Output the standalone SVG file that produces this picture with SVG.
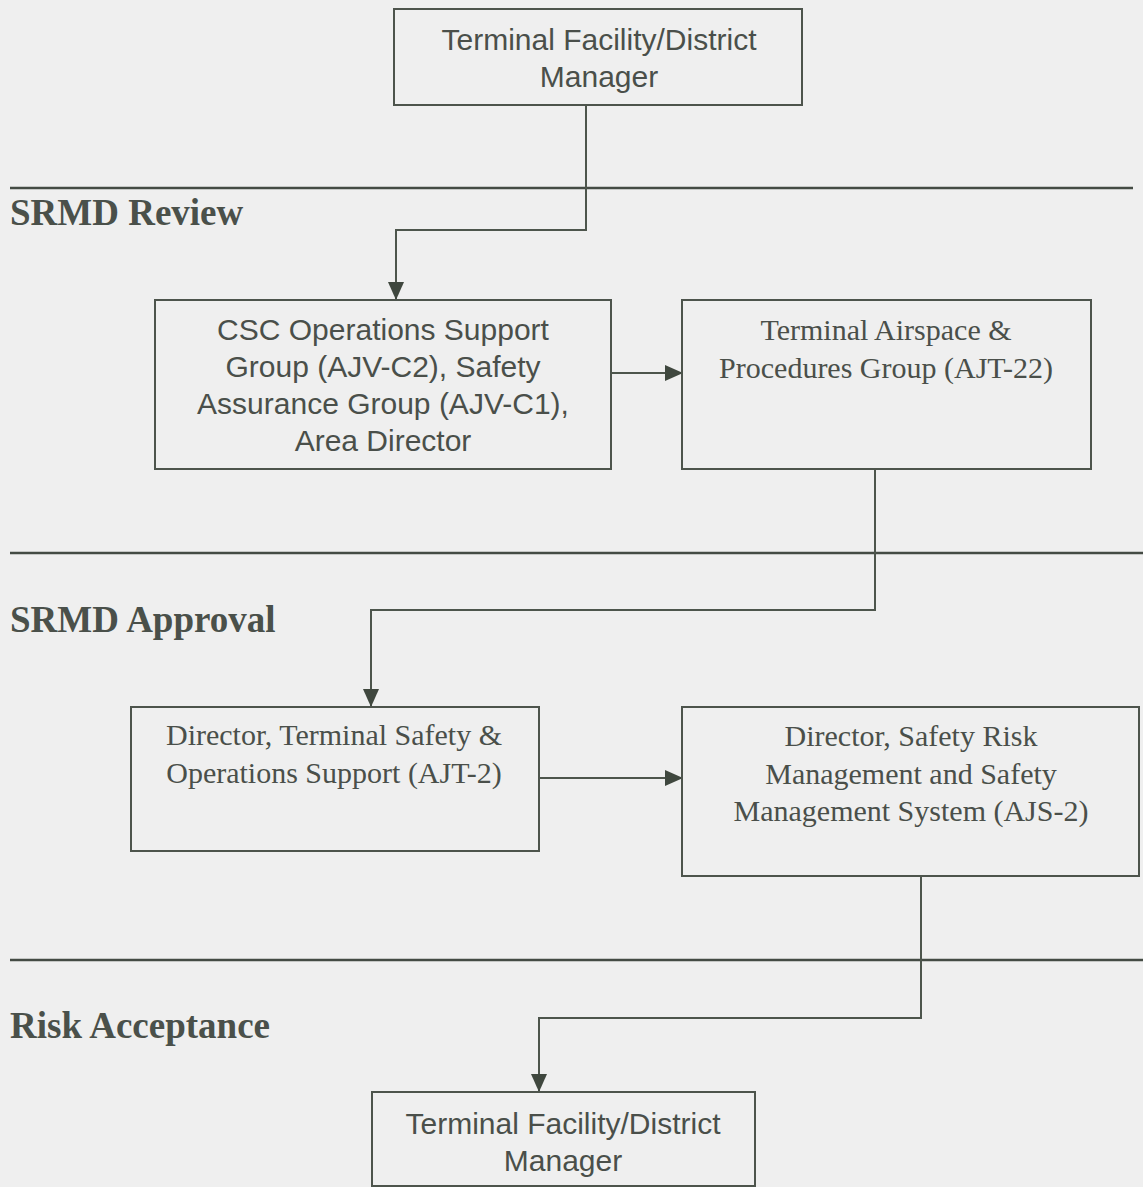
<svg xmlns="http://www.w3.org/2000/svg" width="1143" height="1187" viewBox="0 0 1143 1187">
  <defs>
    <style>
      .box { fill: none; stroke: #4d544c; stroke-width: 2; }
      .sep { stroke: #444b44; stroke-width: 2.5; }
      .conn { fill: none; stroke: #4d554c; stroke-width: 2; }
      .sans { font-family: "Liberation Sans", Arial, sans-serif; font-size: 30px; fill: #4a4f4a; text-anchor: middle; }
      .serif { font-family: "Liberation Serif", "Times New Roman", serif; font-size: 30px; fill: #4a4f4a; text-anchor: middle; }
      .head { font-family: "Liberation Serif", "Times New Roman", serif; font-size: 37px; font-weight: bold; fill: #4a504a; }
    </style>
    <marker id="arrow" markerUnits="userSpaceOnUse" markerWidth="18" markerHeight="16" refX="17" refY="8" orient="auto">
      <path d="M0,0 L18,8 L0,16 Z" fill="#3f473e"/>
    </marker>
  </defs>

  <rect width="1143" height="1187" fill="#efefef"/>

  <!-- phase separators and labels -->
  <g id="phases">
    <line class="sep" x1="10" y1="188" x2="1133" y2="188"/>
    <line class="sep" x1="10" y1="553" x2="1143" y2="553"/>
    <line class="sep" x1="10" y1="960" x2="1143" y2="960"/>
    <text class="head" x="10" y="225">SRMD Review</text>
    <text class="head" x="10" y="632">SRMD Approval</text>
    <text class="head" x="10" y="1038">Risk Acceptance</text>
  </g>

  <!-- connectors -->
  <g id="connectors">
    <polyline class="conn" points="586,105 586,230 396,230 396,299" marker-end="url(#arrow)"/>
    <line class="conn" x1="611" y1="373" x2="682" y2="373" marker-end="url(#arrow)"/>
    <polyline class="conn" points="875,469 875,610 371,610 371,706" marker-end="url(#arrow)"/>
    <line class="conn" x1="539" y1="778" x2="682" y2="778" marker-end="url(#arrow)"/>
    <polyline class="conn" points="921,876 921,1018 539,1018 539,1091" marker-end="url(#arrow)"/>
  </g>

  <g id="manager-top">
    <rect class="box" x="394" y="9" width="408" height="96"/>
    <text class="sans" x="599" y="50">Terminal Facility/District</text>
    <text class="sans" x="599" y="87">Manager</text>
  </g>

  <g id="csc-group">
    <rect class="box" x="155" y="300" width="456" height="169"/>
    <text class="sans" x="383" y="340">CSC Operations Support</text>
    <text class="sans" x="383" y="377">Group (AJV-C2), Safety</text>
    <text class="sans" x="383" y="414">Assurance Group (AJV-C1),</text>
    <text class="sans" x="383" y="451">Area Director</text>
  </g>

  <g id="airspace-group">
    <rect class="box" x="682" y="300" width="409" height="169"/>
    <text class="serif" x="886" y="340">Terminal Airspace &amp;</text>
    <text class="serif" x="886" y="378">Procedures Group (AJT-22)</text>
  </g>

  <g id="ajt2">
    <rect class="box" x="131" y="707" width="408" height="144"/>
    <text class="serif" x="334" y="745">Director, Terminal Safety &amp;</text>
    <text class="serif" x="334" y="783">Operations Support (AJT-2)</text>
  </g>

  <g id="ajs2">
    <rect class="box" x="682" y="707" width="457" height="169"/>
    <text class="serif" x="911" y="746">Director, Safety Risk</text>
    <text class="serif" x="911" y="784">Management and Safety</text>
    <text class="serif" x="911" y="821">Management System (AJS-2)</text>
  </g>

  <g id="manager-bottom">
    <rect class="box" x="372" y="1092" width="383" height="94"/>
    <text class="sans" x="563" y="1134">Terminal Facility/District</text>
    <text class="sans" x="563" y="1171">Manager</text>
  </g>
</svg>
